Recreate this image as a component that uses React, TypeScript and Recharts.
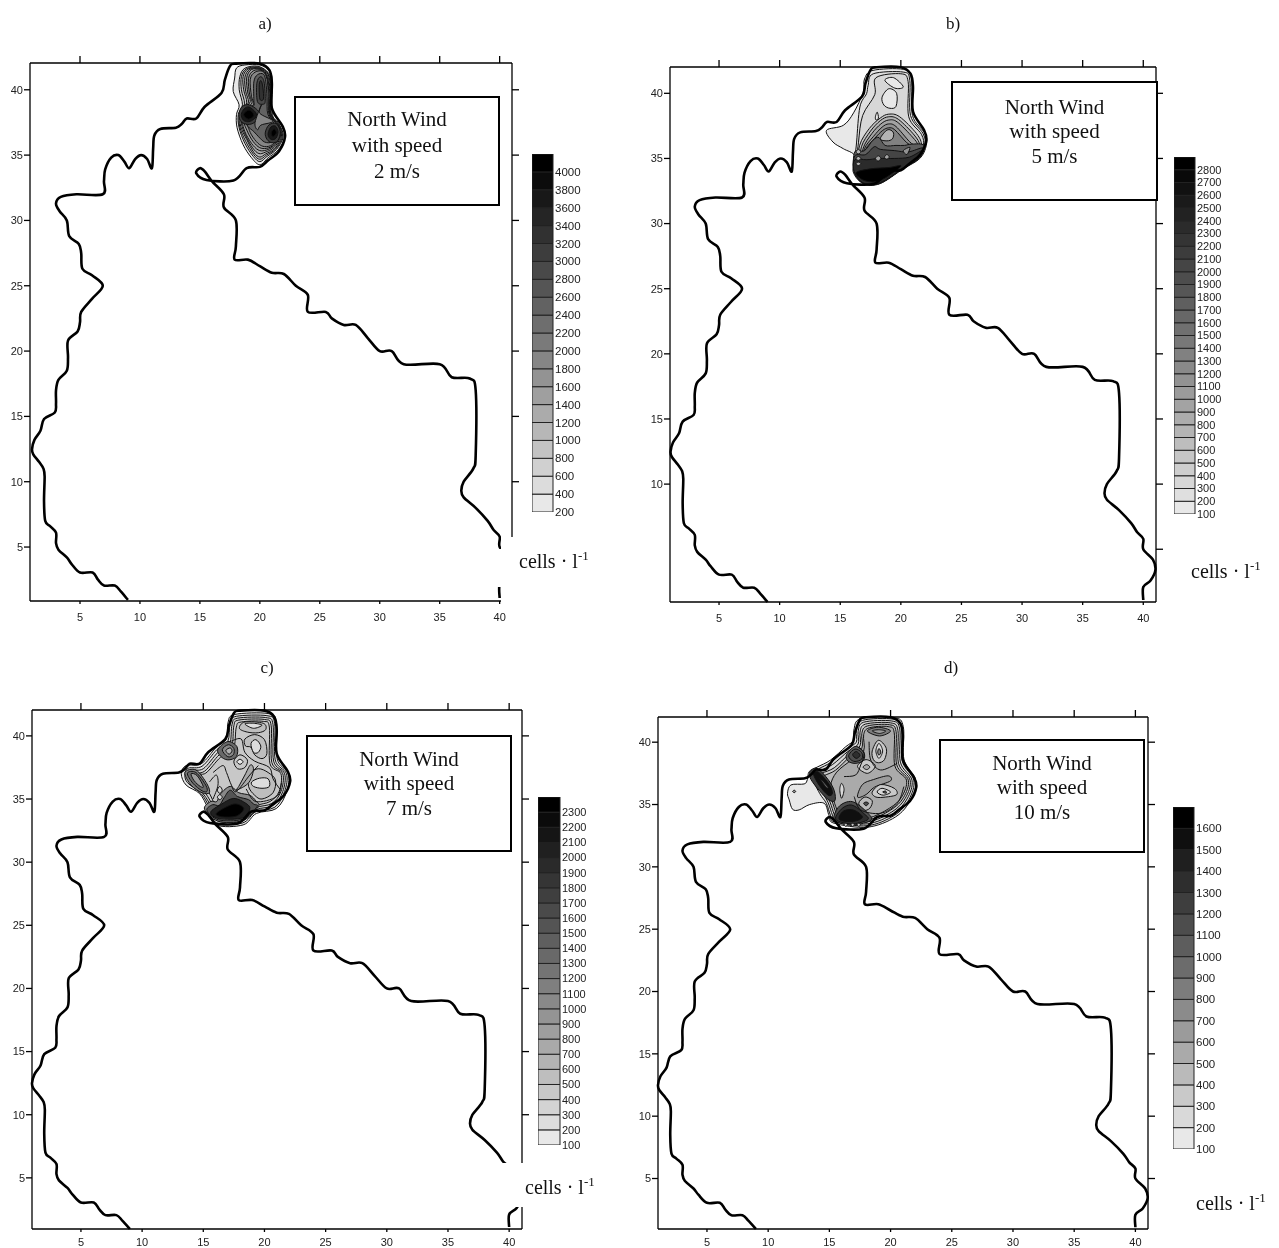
import React from 'react';
import { ScatterChart, Scatter, XAxis, YAxis, BarChart, Bar } from 'recharts';

type Pt = [number, number];
type Contour = [number, Pt[]];

const xTicks = [5, 10, 15, 20, 25, 30, 35, 40];
const yTicks = [5, 10, 15, 20, 25, 30, 35, 40];
const yTicksB = [10, 15, 20, 25, 30, 35, 40];

const coast: Pt[] = [
  [9, 0.95], [8.4, 1.6], [7.9, 2.05], [7, 2.05], [6.5, 2.5], [6.05, 3.05], [5, 3.05], [4.3, 3.7], [3.9, 4.2], [3.2, 4.8], [3, 5.3], [3, 6.1], [2.5, 6.6], [2.1, 7],
  [2, 8.5], [2.05, 10.4], [1.95, 11], [1.6, 11.5], [1.1, 12.1], [1, 12.5], [1.2, 13.2], [1.7, 13.9], [2, 14.8], [2.9, 15.3], [3, 16], [3, 17], [3.2, 17.8], [3.9, 18.5],
  [4, 19.5], [4, 20.8], [4.8, 21.5], [5, 22.2], [5.1, 23], [6, 24], [6.9, 25], [6, 25.8], [5.2, 26.3], [5.1, 27.5], [4.9, 28.2], [4.1, 28.8], [3.9, 30], [3.3, 30.7],
  [3, 31.3], [3.4, 31.8], [4.7, 32], [6.9, 32], [7, 33], [7.1, 33.9], [7.6, 34.8], [8.2, 35], [8.7, 34.5], [9.1, 34], [9.6, 34.7], [10.1, 35], [10.6, 34.7], [11, 34],
  [11.1, 35.5], [11.2, 36.5], [11.7, 37], [13, 37.1], [13.5, 37.4], [13.9, 37.8], [14.7, 37.8], [15.4, 38.7], [16.8, 39.75], [17.08, 40.76], [17.5, 41.8], [18, 42],
  [20, 42], [20.8, 41.5], [21, 40.5], [21, 38.6], [21.9, 37.2], [22.1, 36.4], [21.6, 35.3], [20.7, 34.6], [20, 34.1], [18.9, 34], [17.8, 33.06], [15.55, 33.1], [14.7, 33.6],
  [15, 34], [15.4, 33.75], [16, 33], [17, 32], [17, 31], [18, 30], [18, 28], [17.9, 27], [19, 27], [20, 26.5], [21, 26], [22, 25.9], [23, 25], [24, 24.3], [24, 23],
  [25.5, 23], [26, 22.5], [27, 22], [28, 22], [29, 21], [30, 20], [31, 20], [32, 19], [35, 19], [36, 18], [37.5, 17.9], [38, 17], [38, 12], [37.8, 11], [37, 10], [36.8, 9.3],
  [37, 8.8], [38, 8], [39, 7], [39.5, 6.3], [40, 5.8], [40, 5], [40.8, 4.2], [41, 3.4], [40.6, 2.6], [40, 2.1], [40, 1.1],
];

const contoursA: Contour[] = [
  [200, [[17.78, 39.87], [17.9, 40.9], [18.05, 41.66], [18.75, 41.9], [20, 41.9], [20.83, 41.4], [21.05, 40.5], [21.05, 38.1], [21.8, 37.3], [22.08, 36.4], [21.53, 35.4], [20.7, 34.8], [20, 34.26], [19.3, 34.8], [18.6, 35.8], [18.1, 37.1], [18.05, 38.1], [18.27, 38.85]]],
  [600, [[18.28, 40], [18.33, 41], [18.75, 41.65], [19.85, 41.8], [20.75, 41.25], [20.95, 40.3], [20.95, 38.2], [21.65, 37.3], [21.95, 36.4], [21.4, 35.45], [20.6, 34.9], [20, 34.5], [19.45, 34.9], [18.75, 35.9], [18.27, 37.1], [18.2, 38.1], [18.55, 38.85]]],
  [800, [[18.46, 40], [18.46, 41], [18.9, 41.62], [19.95, 41.72], [20.72, 41.2], [20.91, 40.15], [20.91, 38.2], [21.62, 37.3], [21.88, 36.4], [21.32, 35.47], [20.55, 35], [20, 34.68], [19.48, 35.05], [18.82, 36.05], [18.33, 37.15], [18.3, 38.1], [18.72, 38.92]]],
  [1000, [[18.65, 40], [18.6, 41], [19.03, 41.6], [20, 41.65], [20.7, 41.15], [20.88, 40], [20.88, 38.2], [21.6, 37.3], [21.8, 36.4], [21.25, 35.5], [20.5, 35.1], [20, 34.85], [19.5, 35.2], [18.9, 36.2], [18.4, 37.2], [18.4, 38.1], [18.9, 39]]],
  [1200, [[18.82, 39.88], [18.75, 40.95], [19.17, 41.57], [20.05, 41.6], [20.65, 41.07], [20.85, 39.9], [20.85, 38.15], [21.55, 37.3], [21.72, 36.4], [21.18, 35.58], [20.45, 35.22], [19.92, 35.12], [19.4, 35.55], [18.82, 36.5], [18.47, 37.4], [18.57, 38.3], [19.05, 39.05]]],
  [1400, [[19, 39.75], [18.9, 40.9], [19.3, 41.55], [20.1, 41.55], [20.6, 41], [20.83, 39.75], [20.83, 38.1], [21.5, 37.3], [21.65, 36.4], [21.1, 35.65], [20.4, 35.35], [19.85, 35.4], [19.3, 35.9], [18.75, 36.8], [18.55, 37.6], [18.75, 38.5], [19.2, 39.1]]],
  [1600, [[19.15, 39.62], [19.05, 40.85], [19.45, 41.45], [20.18, 41.47], [20.6, 40.9], [20.76, 39.62], [20.8, 38.1], [21.47, 37.3], [21.62, 36.42], [21.08, 35.72], [20.4, 35.5], [19.85, 35.65], [19.3, 36.22], [18.87, 37], [18.67, 37.6], [18.87, 38.5], [19.35, 39]]],
  [1800, [[19.3, 39.5], [19.2, 40.8], [19.6, 41.35], [20.25, 41.4], [20.6, 40.8], [20.7, 39.5], [20.77, 38.1], [21.45, 37.3], [21.58, 36.45], [21.05, 35.8], [20.4, 35.65], [19.85, 35.9], [19.3, 36.55], [19, 37.2], [18.8, 37.6], [19, 38.5], [19.5, 38.9]]],
  [2400, [[19.5, 39.2], [19.5, 40.6], [19.8, 41.15], [20.3, 41.2], [20.5, 40.6], [20.6, 39.4], [20.68, 38.1], [21.4, 37.2], [21.5, 36.5], [21, 36], [20.4, 36], [19.9, 36.4], [19.5, 36.8], [19, 37.2], [18.8, 37.7], [19, 38.4], [19.5, 38.8]]],
  [2800, [[19.8, 39.1], [19.75, 40.5], [20.05, 41], [20.35, 40.6], [20.45, 39.2], [20.3, 38.9]]],
  [3200, [[20, 39.3], [19.95, 40.4], [20.1, 40.7], [20.25, 40.2], [20.3, 39.3]]],
  [3000, [[18.25, 38.1], [18.5, 38.7], [19.1, 38.85], [19.8, 38.45], [19.95, 38], [19.55, 37.5], [19, 37.35], [18.45, 37.55]]],
  [3600, [[18.45, 38.1], [18.7, 38.55], [19.1, 38.68], [19.6, 38.32], [19.72, 38], [19.4, 37.68], [19, 37.55], [18.62, 37.68]]],
  [4000, [[18.65, 38.1], [19.1, 38.45], [19.5, 38.05], [19.05, 37.75]]],
  [3000, [[20.45, 36.7], [20.75, 37.3], [21.35, 37.42], [21.7, 36.8], [21.5, 36.1], [21, 35.95], [20.6, 36.2]]],
  [3600, [[20.7, 36.7], [20.92, 37.15], [21.3, 37.22], [21.52, 36.8], [21.35, 36.3], [21, 36.18], [20.75, 36.38]]],
  [4000, [[20.95, 36.7], [21.2, 37], [21.38, 36.7], [21.1, 36.42]]],
  [1800, [[20.14, 38.85], [20, 38.2], [21.1, 37.6], [20.1, 37.3], [19.8, 36.94], [19.6, 37.5]]],
];

const contoursB: Contour[] = [
  [100, [[13.87, 37.16], [15.25, 37.54], [16.1, 38.5], [16.9, 40.1], [17, 41.1], [17.7, 41.76], [20.2, 41.84], [20.88, 41.1], [20.96, 38.3], [22, 36.9], [22.1, 36], [21.57, 35], [20.2, 34.2], [18.27, 33.06], [16.9, 33.06], [16.07, 33.96], [16.2, 35.2], [15.25, 35.75], [14.4, 36.26]]],
  [200, [[17.3, 40.6], [17.72, 41.5], [20.2, 41.63], [20.74, 41], [20.8, 38.3], [21.84, 36.9], [21.98, 36], [21.43, 35.1], [20.2, 34.34], [18.27, 33.24], [17.03, 33.24], [16.2, 34.1], [16.35, 36.26], [16.62, 38.95], [17.17, 39.97]]],
  [300, [[17.85, 39.9], [17.95, 41.2], [20, 41.5], [20.6, 40.9], [20.65, 38.2], [21.7, 36.85], [21.85, 36], [21.3, 35.2], [20.2, 34.5], [18.27, 33.4], [17.15, 33.4], [16.35, 34.2], [16.5, 36.2], [16.85, 38.3]]],
  [100, [[18.68, 41], [19.4, 41.2], [20.2, 40.5], [19.5, 40.4]]],
  [100, [[18.45, 39.7], [19, 40.35], [19.65, 40], [19.6, 39], [19.1, 38.85], [18.6, 39.1]]],
  [100, [[17.9, 38.2], [18.05, 38.55], [18.15, 38.1], [17.95, 37.95]]],
  [500, [[16.6, 36], [17.4, 37.3], [18.3, 38.1], [19, 38.4], [19.9, 38.2], [21.3, 36.9], [21.7, 36], [21.2, 35.2], [20.2, 34.6], [18.3, 33.6], [17.2, 33.6], [16.5, 34.3]]],
  [700, [[16.75, 35.9], [17.5, 37.1], [18.3, 37.9], [19, 38.2], [19.8, 38], [21.1, 36.8], [21.55, 36], [21.1, 35.3], [20.2, 34.8], [18.3, 33.75], [17.3, 33.8], [16.65, 34.4]]],
  [900, [[16.9, 35.8], [17.6, 36.9], [18.35, 37.65], [19, 37.95], [19.7, 37.8], [20.95, 36.65], [21.4, 36], [21, 35.4], [20.2, 35], [18.3, 33.9], [17.4, 33.95], [16.8, 34.5]]],
  [1100, [[17, 35.75], [17.75, 36.7], [18.45, 37.4], [19, 37.65], [19.6, 37.45], [20.7, 36.3], [21.2, 35.9], [20.85, 35.45], [20.2, 35.15], [18.3, 34.1], [17.5, 34.1], [16.9, 34.6]]],
  [1300, [[17.1, 35.7], [17.85, 36.55], [18.5, 37.15], [19, 37.35], [19.5, 37.2], [20.5, 36.2], [21.1, 35.9], [20.8, 35.5], [20.2, 35.25], [18.3, 34.25], [17.6, 34.2], [17, 34.7]]],
  [700, [[18.3, 36.5], [18.75, 37.1], [19.1, 37.2], [19.4, 36.95], [19.3, 36.5], [18.85, 36.35]]],
  [1700, [[16.15, 34], [16.2, 35.5], [17, 35.6], [17.7, 36.4], [18.2, 36.6], [18.7, 36], [19.6, 36], [20.3, 36], [20.9, 36.1], [21.9, 36], [21.5, 35], [20.2, 34.25], [18.3, 33.1], [16.9, 33.1]]],
  [2000, [[16.15, 34], [16.2, 35.2], [17.1, 35.3], [17.8, 35.9], [18.3, 35.7], [19.5, 35.6], [20.6, 35.5], [21.85, 35.8], [21.5, 35], [20.2, 34.25], [18.3, 33.1], [16.9, 33.1]]],
  [2300, [[16.15, 34], [16.2, 34.9], [17.2, 34.9], [18.2, 35], [19.5, 35], [20.7, 35.1], [21.75, 35.6], [21.45, 35.1], [20.2, 34.3], [18.3, 33.15], [16.95, 33.1]]],
  [2800, [[16.3, 33.9], [17.5, 34.2], [19, 34.3], [20, 34.4], [18.3, 33.3], [17, 33.3]]],
  [700, [[16.3, 35.5], [16.5, 35.7], [16.7, 35.5], [16.5, 35.35]]],
  [700, [[16.3, 35], [16.5, 35.15], [16.7, 35], [16.5, 34.85]]],
  [700, [[16.3, 34.6], [16.5, 34.72], [16.7, 34.6], [16.5, 34.45]]],
  [900, [[17.9, 35], [18.15, 35.2], [18.35, 35], [18.13, 34.8]]],
  [900, [[18.65, 35.1], [18.85, 35.3], [19.05, 35.1], [18.82, 34.95]]],
  [1100, [[20.2, 35.6], [20.75, 35.85], [20.5, 35.3]]],
];

const contoursC: Contour[] = [
  [100, [[13.2, 37], [13.6, 37.65], [14.84, 37.8], [16.06, 39.1], [16.9, 39.75], [17.02, 41.06], [17.57, 41.7], [20.3, 41.77], [20.98, 41.06], [21.04, 38.18], [21.94, 37], [21.8, 35.56], [20.98, 34.25], [19.34, 33.86], [18.25, 32.95], [16.07, 32.95], [15.4, 34.25], [14.7, 35.43], [13.6, 36.1]]],
  [200, [[13.5, 37], [13.8, 37.45], [14.9, 37.6], [16.1, 38.9], [17, 39.55], [17.2, 41], [17.7, 41.55], [20.2, 41.6], [20.83, 41], [20.88, 38.1], [21.8, 37], [21.65, 35.6], [20.85, 34.35], [19.3, 34], [18.2, 33.1], [16.1, 33.1], [15.55, 34.25], [14.85, 35.4], [13.7, 36.3]]],
  [300, [[13.8, 37], [14, 37.3], [15, 37.4], [16.2, 38.7], [17.15, 39.35], [17.35, 40.9], [17.8, 41.4], [20.1, 41.45], [20.7, 40.9], [20.75, 38], [21.65, 37], [21.5, 35.6], [20.75, 34.5], [19.3, 34.15], [18.2, 33.25], [16.2, 33.25], [15.7, 34.3], [15, 35.4], [13.9, 36.4]]],
  [300, [[14.1, 37], [15.1, 37.2], [16.3, 38.5], [17.3, 39.1], [17.5, 40.8], [17.9, 41.25], [20, 41.3], [20.55, 40.8], [20.6, 37.9], [21.5, 37], [21.35, 35.6], [20.6, 34.65], [19.3, 34.3], [18.2, 33.4], [16.3, 33.4], [15.85, 34.35], [15.15, 35.5], [14.2, 36.5]]],
  [400, [[17.7, 40.7], [18.1, 41.1], [19.9, 41.15], [20.4, 40.7], [20.45, 37.8], [21.35, 37], [21.2, 35.6], [20.45, 34.8], [19.3, 34.45], [18.2, 33.6], [16.4, 33.6], [16, 34.4], [15.4, 35.6], [14.5, 36.5], [14.4, 37], [15.2, 37.05], [16.4, 38.3], [17.45, 38.9]]],
  [1100, [[13.5, 37.1], [14.4, 37.3], [15.3, 36.2], [15.5, 35.5], [14.9, 35.5], [14, 36.1]]],
  [1300, [[13.7, 37.05], [14.4, 37.1], [15.2, 36.1], [15.3, 35.6], [14.9, 35.65], [14.15, 36.25]]],
  [800, [[14, 37], [14.5, 36.85], [15, 36], [14.75, 36], [14.25, 36.45]]],
  [500, [[17.95, 40.6], [18.4, 41.1], [19.9, 41], [20.1, 40.5], [19.5, 40.25], [18.6, 40.3]]],
  [200, [[18.4, 40.95], [19.1, 41], [19.8, 40.85], [19.1, 40.6]]],
  [500, [[18.4, 39.75], [19.2, 40.1], [20, 39.7], [20.2, 38.6], [19.8, 38.2], [19.2, 38.5], [18.9, 39.1], [18.45, 39.2]]],
  [200, [[18.9, 39.4], [19.3, 39.7], [19.7, 39.2], [19.5, 38.7], [19.1, 38.7]]],
  [1300, [[16.2, 38.95], [17, 39.55], [17.75, 39.15], [17.7, 38.35], [17, 38.1], [16.4, 38.4]]],
  [1000, [[16.55, 38.9], [17.05, 39.3], [17.5, 39], [17.45, 38.5], [17, 38.35]]],
  [600, [[16.85, 38.85], [17.2, 39.05], [17.35, 38.8], [17.1, 38.55]]],
  [400, [[17.5, 38], [18, 38.5], [18.6, 38.1], [18.4, 37.5], [17.8, 37.4]]],
  [100, [[17.75, 37.95], [18, 38.15], [18.25, 37.95], [18, 37.75]]],
  [500, [[18.8, 37], [19.5, 37.4], [20.3, 37.1], [20.9, 36.5], [20.7, 35.5], [19.8, 35], [19.2, 35.3], [18.7, 36]]],
  [200, [[18.95, 36.35], [19.6, 36.65], [20.3, 36.6], [20.4, 36], [19.8, 35.85], [19.1, 36]]],
  [700, [[18.5, 36.1], [18.9, 36.6], [19.1, 37.4], [18.85, 37.7], [18.4, 36.9], [17.9, 36], [17.7, 35.7]]],
  [1000, [[15.1, 34.2], [15.6, 34.8], [16.1, 34.8], [16.4, 35.4], [17.2, 36], [17.9, 35.5], [18.8, 35.3], [19.3, 34.85], [19.5, 34.4], [18.2, 33.3], [16.2, 33.25]]],
  [1500, [[15.3, 34.1], [15.75, 34.55], [16.3, 34.5], [16.7, 35.1], [17.2, 35.7], [17.8, 35.2], [18.7, 34.95], [19.1, 34.6], [19.4, 34.4], [18.2, 33.4], [16.25, 33.35]]],
  [2000, [[15.6, 33.95], [16.5, 34.6], [17.5, 35.05], [18.5, 34.65], [18.8, 34.2], [18.2, 33.5], [16.3, 33.45]]],
  [2300, [[16.1, 33.9], [17.5, 34.6], [18.3, 34.25], [17.7, 33.65], [16.5, 33.6]]],
  [300, [[16.15, 35.7], [16.35, 36], [16.55, 35.7], [16.35, 35.45]]],
  [300, [[16.15, 35.15], [16.35, 35.35], [16.55, 35.15], [16.35, 34.95]]],
];

const linesC: Pt[][] = [
  [[17.3, 39.6], [18.1, 39.75], [18.4, 38.7], [19.2, 38], [20.4, 37.5], [20.7, 36.6], [21.25, 35.8]],
  [[15.8, 37.1], [16.6, 37.65], [16.9, 37.1], [17.3, 36.1], [17.7, 35.6], [18.8, 36.9], [19.5, 37.65]],
  [[18.5, 35.8], [19.3, 34.8], [21, 35.2], [21.4, 36.3]],
  [[15.5, 36.35], [16.07, 36.9], [16.2, 36.1], [15.8, 35]],
];

const contoursD: Contour[] = [
  [100, [[13.35, 37.64], [14, 38], [15.1, 38.57], [16.34, 39.64], [17.02, 40.17], [17, 40.97], [17.56, 41.9], [20.28, 41.98], [21.04, 41.24], [21.1, 38.57], [22.05, 36.97], [21.64, 35.37], [20.4, 34], [18.1, 33.18], [15.39, 33.5], [14.98, 34.09], [14.57, 35.1], [13.4, 35], [12.53, 34.57], [11.99, 34.62], [11.72, 35.37], [11.58, 35.9], [11.86, 36.57], [12.94, 36.65], [13.2, 37]]],
  [200, [[13.5, 37.4], [14.1, 37.85], [15.15, 38.4], [16.4, 39.45], [17.2, 40], [17.2, 40.9], [17.7, 41.75], [20.2, 41.85], [20.9, 41.15], [20.95, 38.5], [21.9, 36.95], [21.5, 35.4], [20.3, 34.12], [18.1, 33.3], [15.45, 33.6], [15.1, 34.1], [14.75, 35.1], [14.2, 35.9]]],
  [200, [[13.7, 37.2], [14.2, 37.7], [15.25, 38.2], [16.5, 39.25], [17.35, 39.85], [17.35, 40.85], [17.8, 41.6], [20.1, 41.7], [20.75, 41.05], [20.8, 38.4], [21.75, 36.95], [21.35, 35.45], [20.2, 34.25], [18.1, 33.45], [15.55, 33.7], [15.25, 34.15], [14.9, 35.15], [14.4, 36]]],
  [300, [[13.95, 37.05], [14.4, 37.5], [15.4, 37.95], [16.6, 39.05], [17.5, 39.7], [17.5, 40.8], [17.95, 41.45], [20, 41.55], [20.6, 40.95], [20.65, 38.3], [21.6, 36.95], [21.2, 35.5], [20.1, 34.4], [18.1, 33.6], [15.7, 33.8], [15.4, 34.2], [15.05, 35.2], [14.55, 36.1]]],
  [400, [[14.15, 36.9], [14.55, 37.3], [15.5, 37.75], [16.7, 38.85], [17.65, 39.5], [17.65, 40.7], [18.1, 41.3], [19.9, 41.4], [20.45, 40.85], [20.5, 38.2], [21.45, 36.95], [21.05, 35.55], [20, 34.55], [18.1, 33.75], [15.85, 33.9], [15.55, 34.3], [15.2, 35.3], [14.7, 36.2]]],
  [500, [[15.6, 37.6], [16.85, 38.6], [17.8, 39.3], [17.8, 40.6], [18.25, 41.15], [19.8, 41.25], [20.3, 40.75], [20.35, 38.1], [21.3, 36.95], [20.9, 35.6], [19.9, 34.7], [18.1, 33.9], [16, 34.05], [15.7, 34.4], [15.35, 35.35], [15.1, 36.5]]],
  [800, [[18.1, 40.9], [19, 41.2], [20, 40.9], [19.1, 40.5]]],
  [600, [[18.5, 40.9], [19, 41], [19.6, 40.9], [19.1, 40.7]]],
  [300, [[18.5, 39.3], [19, 40.15], [19.65, 39.5], [19.5, 38.6], [19, 38.35], [18.6, 38.6]]],
  [200, [[18.8, 39.3], [19.05, 39.9], [19.35, 39.3], [19.05, 38.7]]],
  [700, [[18.95, 39.2], [19.05, 39.5], [19.2, 39.2], [19.05, 38.95]]],
  [300, [[17.3, 38.05], [18, 38.6], [18.75, 38.1], [18.1, 37.5]]],
  [500, [[17.75, 38], [18.05, 38.2], [18.3, 38], [18.05, 37.8]]],
  [1000, [[16.4, 39], [17.1, 39.65], [17.8, 39.25], [17.8, 38.55], [17.1, 38.3], [16.5, 38.5]]],
  [1100, [[16.6, 39], [17.1, 39.45], [17.65, 39.15], [17.65, 38.65], [17.1, 38.45], [16.7, 38.65]]],
  [1300, [[16.9, 39], [17.2, 39.25], [17.5, 38.95], [17.2, 38.7]]],
  [1200, [[13.4, 37.6], [14, 37.9], [14.9, 37], [15.4, 36.1], [15.45, 35.3], [14.9, 35.4], [14.2, 36.1], [13.5, 37]]],
  [1500, [[13.7, 37.45], [14.1, 37.6], [15, 36.6], [15.25, 35.9], [14.9, 35.75], [14.2, 36.5]]],
  [1000, [[14.2, 37.15], [14.9, 36.4], [14.7, 36.4]]],
  [200, [[15.85, 36.2], [16, 36.7], [16.2, 36.2], [16, 35.5]]],
  [600, [[17.3, 35.6], [17.7, 36.6], [18.6, 37], [19.8, 37.3], [20, 36.9], [18.7, 36.4], [18, 35.8]]],
  [300, [[18.5, 36], [19.2, 36.6], [20.3, 36.3], [20.5, 35.8], [19.6, 35.6], [18.8, 35.6]]],
  [200, [[18.9, 36], [19.3, 36.3], [20, 36], [19.4, 35.75]]],
  [1000, [[19.35, 36], [19.6, 36.08], [19.65, 35.9]]],
  [400, [[17.4, 35.1], [17.9, 35.6], [18.5, 35.3], [18.3, 34.7], [17.8, 34.55]]],
  [1100, [[17.8, 35.1], [18, 35.2], [18.2, 35.1], [18, 34.9]]],
  [1100, [[15.35, 33.85], [15.7, 34.75], [16.4, 35.2], [17.1, 35.15], [18.05, 34.4], [18.4, 33.75], [17, 33.35], [15.9, 33.5]]],
  [1300, [[15.5, 33.9], [15.85, 34.5], [16.4, 34.9], [17, 34.9], [17.85, 34.25], [18.15, 33.8], [17, 33.45], [15.9, 33.6]]],
  [1500, [[15.8, 34], [16.2, 34.5], [17, 34.55], [17.7, 34], [17, 33.65], [16, 33.7]]],
  [300, [[16.2, 33.37], [16.34, 33.5], [16.48, 33.37], [16.34, 33.25]]],
  [300, [[16.76, 33.37], [16.9, 33.5], [17.04, 33.37], [16.9, 33.25]]],
  [300, [[17.26, 33.37], [17.4, 33.5], [17.54, 33.37], [17.4, 33.25]]],
  [600, [[12, 36.05], [12.13, 36.15], [12.25, 36.05], [12.13, 35.95]]],
];

const linesD: Pt[][] = [
  [[17.29, 39.64], [17.83, 39.1], [17.56, 38.17], [17.15, 37.37], [16.2, 37.24]],
  [[18.24, 40.04], [18.38, 38.57], [19.19, 37.77], [20.55, 38.3]],
  [[17.02, 35.64], [17.56, 34.57], [19.19, 34.3], [20.55, 35.1], [21.09, 36.44]],
];

const levelsA = [200, 400, 600, 800, 1000, 1200, 1400, 1600, 1800, 2000, 2200, 2400, 2600, 2800, 3000, 3200, 3400, 3600, 3800, 4000];
const levelsB = [100, 200, 300, 400, 500, 600, 700, 800, 900, 1000, 1100, 1200, 1300, 1400, 1500, 1600, 1700, 1800, 1900, 2000, 2100, 2200, 2300, 2400, 2500, 2600, 2700, 2800];
const levelsC = [100, 200, 300, 400, 500, 600, 700, 800, 900, 1000, 1100, 1200, 1300, 1400, 1500, 1600, 1700, 1800, 1900, 2000, 2100, 2200, 2300];
const levelsD = [100, 200, 300, 400, 500, 600, 700, 800, 900, 1000, 1100, 1200, 1300, 1400, 1500, 1600];

const windSpeeds = ['2 m/s', '5 m/s', '7 m/s', '10 m/s'];
const panelNames = ['a)', 'b)', 'c)', 'd)'];

const SERIF = '"Liberation Serif", "Times New Roman", serif';
const SANS = '"Liberation Sans", Arial, sans-serif';

const makeCurve = (closed: boolean) => (ctx: any) => {
  let p: number[][] = [];
  return {
    areaStart() {}, areaEnd() {},
    lineStart() { p = []; },
    point(x: number, y: number) { p.push([+x, +y]); },
    lineEnd() {
      const n = p.length;
      if (!n) return;
      const at = (i: number) => closed ? p[(i + n) % n] : p[Math.max(0, Math.min(n - 1, i))];
      ctx.moveTo(p[0][0], p[0][1]);
      const last = closed ? n : n - 1;
      for (let i = 0; i < last; i++) {
        const a = at(i - 1), b = at(i), c = at(i + 1), d = at(i + 2);
        ctx.bezierCurveTo(b[0] + (c[0] - a[0]) / 6, b[1] + (c[1] - a[1]) / 6, c[0] - (d[0] - b[0]) / 6, c[1] - (d[1] - b[1]) / 6, c[0], c[1]);
      }
      if (closed) ctx.closePath();
    },
  };
};
const closedCurve = makeCurve(true);
const openCurve = makeCurve(false);
const NoDot = () => <g />;

const grayOf = (level: number, levels: number[]) => {
  const lo = levels[0], hi = levels[levels.length - 1];
  const g = Math.round(232 * (1 - (level - lo) / (hi - lo)));
  return `rgb(${g},${g},${g})`;
};
const toRows = (pts: Pt[]) => pts.map(([x, y]) => ({ x, y }));

function MapPanel({ box, xd, yd, contours, lines, levels, leftTicks, tickGap, bottomH }: any) {
  const [L, T, W, H] = box;
  const axis = { stroke: '#000', strokeWidth: 1.3 };
  const tickStyle = { fontSize: 11, fontFamily: SANS, fill: '#222' };
  return (
    <div style={{ position: 'absolute', left: L - 40, top: T - 20 }}>
      <ScatterChart width={W + 60} height={H + 20 + bottomH} margin={{ top: 0, right: 0, bottom: 0, left: 0 }}>
        <XAxis xAxisId="b" type="number" dataKey="x" domain={xd} ticks={xTicks} interval={0} height={bottomH} tick={tickStyle} tickSize={3} tickMargin={tickGap} axisLine={axis} tickLine={axis} />
        <XAxis xAxisId="t" orientation="top" type="number" dataKey="x" domain={xd} ticks={xTicks} interval={0} height={20} tick={NoDot} tickSize={7} axisLine={axis} tickLine={axis} />
        <YAxis yAxisId="l" type="number" dataKey="y" domain={yd} ticks={leftTicks} interval={0} width={40} tick={tickStyle} tickSize={6} tickMargin={1} axisLine={axis} tickLine={axis} />
        <YAxis yAxisId="r" orientation="right" type="number" dataKey="y" domain={yd} ticks={yTicks} interval={0} width={20} tick={NoDot} tickSize={7} axisLine={axis} tickLine={axis} />
        <Scatter xAxisId="t" yAxisId="r" data={toRows(coast)} shape={NoDot} isAnimationActive={false} />
        {contours.map(([level, pts]: Contour, i: number) => (
          <Scatter key={i} xAxisId="b" yAxisId="l" data={toRows(pts)} shape={NoDot} isAnimationActive={false} lineType="joint" lineJointType={closedCurve as any}
            line={{ stroke: '#111', strokeWidth: 1, fill: grayOf(level, levels) } as any} />
        ))}
        {(lines || []).map((pts: Pt[], i: number) => (
          <Scatter key={'l' + i} xAxisId="b" yAxisId="l" data={toRows(pts)} shape={NoDot} isAnimationActive={false} lineType="joint" lineJointType={openCurve as any}
            line={{ stroke: '#111', strokeWidth: 1, fill: 'none' } as any} />
        ))}
        <Scatter xAxisId="b" yAxisId="l" data={toRows(coast)} shape={NoDot} isAnimationActive={false} lineType="joint" lineJointType={openCurve as any}
          line={{ stroke: '#000', strokeWidth: 2.6, fill: 'none' } as any} />
      </ScatterChart>
    </div>
  );
}

function ColorBar({ x, top, bottom, width, levels, labelWidth, fontSize }: any) {
  const step = levels[1] - levels[0];
  const lo = levels[0], hi = levels[levels.length - 1] + step;
  const row: any = { name: 'scale', base: lo };
  levels.forEach((l: number) => { row['s' + l] = step; });
  return (
    <div style={{ position: 'absolute', left: x, top: top - 8 }}>
      <BarChart width={width + labelWidth} height={bottom - top + 16} data={[row]} margin={{ top: 8, right: 0, bottom: 8, left: 0 }} barCategoryGap={0}>
        <XAxis dataKey="name" hide />
        <YAxis orientation="right" type="number" domain={[lo, hi]} allowDataOverflow ticks={levels} interval={0} width={labelWidth} axisLine={false} tickLine={false} tickMargin={2} tickSize={0}
          tick={{ fontSize, fontFamily: SANS, fill: '#222' }} />
        <Bar dataKey="base" stackId="k" fill="none" stroke="none" isAnimationActive={false} />
        {levels.map((l: number) => (
          <Bar key={l} dataKey={'s' + l} stackId="k" fill={grayOf(l, levels)} stroke="#222" strokeWidth={1} isAnimationActive={false} />
        ))}
      </BarChart>
    </div>
  );
}

function NoteBox({ box, speed, lh, pad }: any) {
  const [x, y, w, h] = box;
  return (
    <div style={{ position: 'absolute', left: x, top: y, width: w, height: h, boxSizing: 'border-box', border: '2px solid #000', background: '#fff', paddingTop: pad,
      fontFamily: SERIF, fontSize: 21, lineHeight: lh + 'px', textAlign: 'center', color: '#111' }}>
      <div>North Wind</div><div>with speed</div><div>{speed}</div>
    </div>
  );
}

const Mask = ({ x, y, w, h }: any) => <div style={{ position: 'absolute', left: x, top: y, width: w, height: h, background: '#fff' }} />;
const Units = ({ x, y }: any) => (
  <div style={{ position: 'absolute', left: x, top: y - 12, fontFamily: SERIF, fontSize: 20, lineHeight: '24px', whiteSpace: 'nowrap', color: '#111' }}>
    cells · l<span style={{ fontSize: 13, position: 'relative', top: -8 }}>-1</span>
  </div>
);
const Title = ({ x, y, t }: any) => (
  <div style={{ position: 'absolute', left: x - 20, top: y - 9, width: 40, textAlign: 'center', fontFamily: SERIF, fontSize: 17, lineHeight: '18px', color: '#111' }}>{t}</div>
);

export default function App() {
  return (
    <div style={{ position: 'absolute', left: 0, top: 0, width: 1279, height: 1248, overflow: 'hidden', willChange: 'transform' }}>
      <MapPanel box={[30, 63, 482, 538]} xd={[0.83, 41.03]} yd={[0.87, 42.05]} contours={contoursA} levels={levelsA} leftTicks={yTicks} tickGap={9} bottomH={28} />
      <MapPanel box={[670, 67, 486, 535]} xd={[0.955, 41.05]} yd={[0.96, 42.02]} contours={contoursB} levels={levelsB} leftTicks={yTicksB} tickGap={9} bottomH={28} />
      <MapPanel box={[32, 710, 490, 519]} xd={[1, 41.05]} yd={[1.05, 42.05]} contours={contoursC} lines={linesC} levels={levelsC} leftTicks={yTicks} tickGap={6} bottomH={19} />
      <MapPanel box={[658, 717, 490, 512]} xd={[1.09, 41.03]} yd={[1.04, 42.02]} contours={contoursD} lines={linesD} levels={levelsD} leftTicks={yTicks} tickGap={6} bottomH={19} />

      <Mask x={501} y={537} w={20} h={75} />
      <Mask x={496} y={549} w={24} h={38} />
      <Mask x={496} y={1163} w={34} h={44} />

      <ColorBar x={532} top={154} bottom={512} width={21} levels={levelsA} labelWidth={40} fontSize={11.5} />
      <ColorBar x={1174} top={157} bottom={514} width={21} levels={levelsB} labelWidth={40} fontSize={11} />
      <ColorBar x={538} top={797} bottom={1145} width={22} levels={levelsC} labelWidth={40} fontSize={11} />
      <ColorBar x={1173} top={807} bottom={1149} width={21} levels={levelsD} labelWidth={40} fontSize={11.5} />

      <NoteBox box={[294, 96, 206, 110]} speed={windSpeeds[0]} lh={26} pad={8} />
      <NoteBox box={[951, 81, 207, 120]} speed={windSpeeds[1]} lh={24.5} pad={11.75} />
      <NoteBox box={[306, 735, 206, 117]} speed={windSpeeds[2]} lh={24.5} pad={9.75} />
      <NoteBox box={[939, 739, 206, 114]} speed={windSpeeds[3]} lh={24.5} pad={9.75} />

      <Units x={519} y={561} /><Units x={1191} y={571} /><Units x={525} y={1187} /><Units x={1196} y={1203} />
      <Title x={265} y={24} t={panelNames[0]} />
      <Title x={953} y={24} t={panelNames[1]} />
      <Title x={267} y={668} t={panelNames[2]} />
      <Title x={951} y={668} t={panelNames[3]} />
    </div>
  );
}
